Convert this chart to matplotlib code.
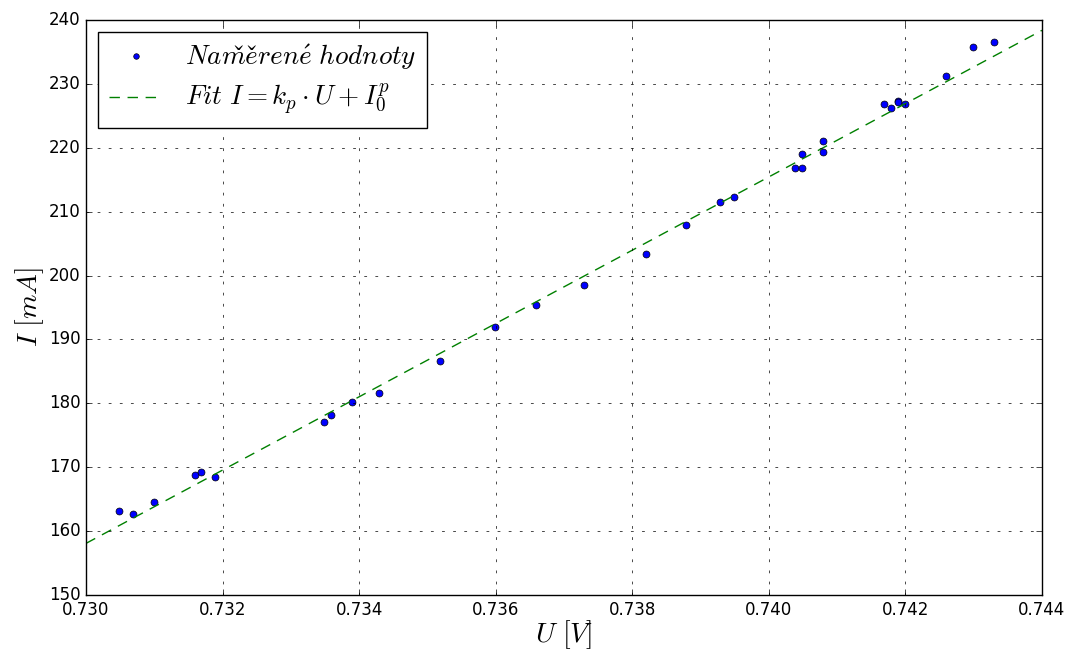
import numpy as np
import matplotlib
matplotlib.use('Agg')
import matplotlib.pyplot as plt

plt.style.use('classic')
plt.rcParams['mathtext.fontset'] = 'cm'
plt.rcParams['font.family'] = ['DejaVu Sans']

# naměřené hodnoty: napětí U [V], proud I [mA]
U = [0.73048, 0.73069, 0.73100, 0.73159, 0.73169, 0.73189, 0.73349, 0.73359,
     0.73389, 0.73429, 0.73519, 0.73599, 0.73659, 0.73729, 0.73820, 0.73879,
     0.73929, 0.73949, 0.74039, 0.74049, 0.74049, 0.74079, 0.74079, 0.74169,
     0.74179, 0.74189, 0.74189, 0.74199, 0.74259, 0.74299, 0.74330]
I = [163.1, 162.7, 164.6, 168.8, 169.2, 168.5, 177.1, 178.1,
     180.2, 181.6, 186.6, 192.0, 195.4, 198.6, 203.4, 207.9,
     211.5, 212.3, 216.9, 216.9, 219.1, 219.3, 221.1, 226.8,
     226.3, 227.4, 227.1, 226.8, 231.2, 235.7, 236.5]

# parametry fitu I = k_p*U + I_0^p
k_p = 5736.0
I0_p = -4029.2

xlim = (0.730, 0.744)
ylim = (150, 240)

fig = plt.figure(figsize=(10.7, 6.56), dpi=100, facecolor='white')
ax = fig.add_axes([0.0804, 0.093, 0.8934, 0.8765])

ax.plot(U, I, 'o', color='b', mec='k', mew=0.5, ms=5,
        label=r'$Nam\check{e}\check{r}en\acute{e}\ hodnoty$')
u_fit = np.linspace(xlim[0], xlim[1], 100)
ax.plot(u_fit, k_p * u_fit + I0_p, '--', color='g', lw=1.0, dashes=(7.5, 5.5),
        label=r'$Fit\ I = k_p \cdot U + I_0^p$')

ax.set_xlim(*xlim)
ax.set_ylim(*ylim)
ax.set_xticks(np.arange(0.730, 0.7441, 0.002))
ax.set_yticks(np.arange(150, 241, 10))
ax.xaxis.set_major_formatter(matplotlib.ticker.FormatStrFormatter('%.3f'))
ax.tick_params(labelsize=12)
ax.grid(True, color='k', linestyle=(0, (2, 6)), linewidth=0.5)

ax.set_xlabel(r'$U\ [V]$', fontsize=20, labelpad=0)
ax.set_ylabel(r'$I\ [mA]$', fontsize=20, labelpad=2)

leg = ax.legend(loc='upper left', numpoints=1, fontsize=19.5, fancybox=False,
                labelspacing=0.35, borderaxespad=0.45, markerscale=0.8)
leg.get_frame().set_edgecolor('k')

fig.savefig('out.png', dpi=100, facecolor='white')
